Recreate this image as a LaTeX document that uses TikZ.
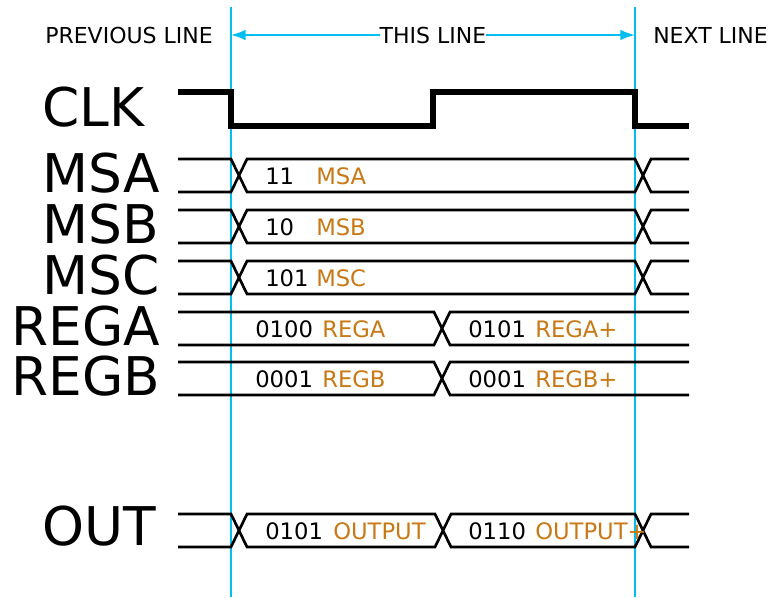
\documentclass[tikz,border=0pt]{standalone}
\usepackage{fontspec}
\setmainfont{DejaVu Sans}
\usetikzlibrary{arrows.meta}
\definecolor{lineblue}{RGB}{0,190,240}
\definecolor{namebrown}{RGB}{200,120,20}

\begin{document}
\begin{tikzpicture}[
x=0.75pt, y=-0.75pt,
sig/.style={line width=2pt, black},
clk/.style={line width=3.8pt, black},
linemark/.style={line width=2pt, lineblue},
span/.style={{Latex[length=11pt,width=8pt]}-{Latex[length=11pt,width=8pt]}, line width=1.3pt, lineblue},
big/.style={anchor=base west, inner sep=0, font=\fontsize{40}{40}\selectfont},
head/.style={inner sep=0pt, font=\fontsize{16.5}{16.5}\selectfont},
val/.style={anchor=base west, inner sep=0, font=\fontsize{17}{17}\selectfont},
nam/.style={val, text=namebrown}
]
\useasboundingbox (0,0) rectangle (768,597);

% line markers
\coordinate (prevtop) at (231,7);
\coordinate (prevbot) at (231,597);
\coordinate (nexttop) at (635,7);
\coordinate (nextbot) at (635,597);
\draw[linemark] (prevtop) -- (prevbot);
\draw[linemark] (nexttop) -- (nextbot);

\coordinate (spanl) at (231,35);
\coordinate (spanr) at (635,35);
\draw[span] (spanl) -- (spanr);
\node[head, fill=white] (this) at (433,35) {THIS LINE};
\node[head] (prev) at (129,35) {PREVIOUS LINE};
\node[head, anchor=west] (next) at (653,35) {NEXT LINE};

% clock
\node[big] (clklbl) at (42,126) {CLK};
\draw[clk] (178,92) -- (231,92) -- (231,126) -- (433,126) -- (433,92) -- (635,92) -- (635,126) -- (689,126);

% MSA, MSB, MSC
\foreach \t/\b/\v/\n in {159/192/11/MSA, 210/243/10/MSB, 261/294/101/MSC} {
  \node[big] at (42,\b) {\n};
  \draw[sig] (178,\t) -- (231,\t) -- (247,\b) -- (635,\b) -- (651,\t) -- (689,\t);
  \draw[sig] (178,\b) -- (231,\b) -- (247,\t) -- (635,\t) -- (651,\b) -- (689,\b);
  \node[val] at (265,\b-8) {\v};
  \node[nam] at (316,\b-8) {\n};
}

% REGA, REGB
\foreach \t/\b/\n/\va/\vb in {312/345/REGA/0100/0101, 362/395/REGB/0001/0001} {
  \node[big] at (11,\b) {\n};
  \draw[sig] (178,\t) -- (434,\t) -- (450,\b) -- (689,\b);
  \draw[sig] (178,\b) -- (434,\b) -- (450,\t) -- (689,\t);
  \node[val] at (255,\b-8) {\va};
  \node[nam] at (322,\b-8) {\n};
  \node[val] at (468,\b-8) {\vb};
  \node[nam] at (535,\b-8) {\n+};
}

% output
\node[big] (outlbl) at (42,545) {OUT};
\draw[sig] (178,514) -- (231,514) -- (247,547) -- (435,547) -- (451,514) -- (635,514) -- (651,547) -- (689,547);
\draw[sig] (178,547) -- (231,547) -- (247,514) -- (435,514) -- (451,547) -- (635,547) -- (651,514) -- (689,514);
\node[val] (outa) at (265,539) {0101};
\node[nam] (outan) at (333,539) {OUTPUT};
\node[val] (outb) at (468,539) {0110};
\node[nam] (outbn) at (535,539) {OUTPUT+};
\end{tikzpicture}
\end{document}
